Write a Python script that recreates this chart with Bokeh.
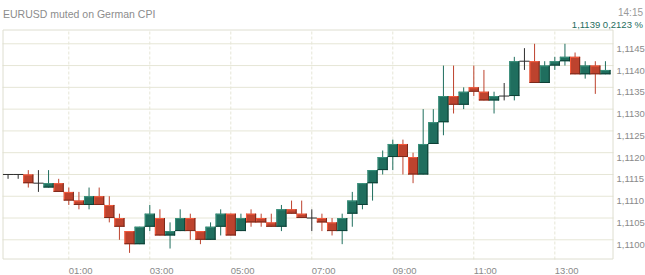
from bokeh.plotting import figure
from bokeh.models import Range1d, ColumnDataSource
from bokeh.core.properties import value
from bokeh.embed import file_html
from bokeh.resources import INLINE

# ---------------- data ----------------
times = ["23:30", "23:45", "00:00", "00:15", "00:30", "00:45", "01:00", "01:15", "01:30", "01:45",
         "02:00", "02:15", "02:30", "02:45", "03:00", "03:15", "03:30", "03:45", "04:00", "04:15",
         "04:30", "04:45", "05:00", "05:15", "05:30", "05:45", "06:00", "06:15", "06:30", "06:45",
         "07:00", "07:15", "07:30", "07:45", "08:00", "08:15", "08:30", "08:45", "09:00", "09:15",
         "09:30", "09:45", "10:00", "10:15", "10:30", "10:45", "11:00", "11:15", "11:30", "11:45",
         "12:00", "12:15", "12:30", "12:45", "13:00", "13:15", "13:30", "13:45", "14:00", "14:15"]

opens = [1.1115, 1.1115, 1.1115, 1.1113, 1.1112, 1.1113, 1.1111, 1.1109, 1.1108, 1.1110,
         1.1108, 1.1105, 1.1102, 1.1099, 1.1103, 1.1105, 1.1101, 1.1102, 1.1105, 1.1102,
         1.1100, 1.1103, 1.1106, 1.1102, 1.1106, 1.1105, 1.1104, 1.1103, 1.1107, 1.1106,
         1.1105, 1.1105, 1.1104, 1.1102, 1.1106, 1.1108, 1.1113, 1.1116, 1.1119, 1.1122,
         1.1119, 1.1115, 1.1122, 1.1127, 1.1133, 1.1131, 1.1135, 1.1134, 1.1132, 1.1133,
         1.1133, 1.1141, 1.1141, 1.1136, 1.1140, 1.1141, 1.1142, 1.1138, 1.1140, 1.1138]

closes = [1.1115, 1.1115, 1.1113, 1.1113, 1.1113, 1.1111, 1.1109, 1.1108, 1.1110, 1.1108,
          1.1105, 1.1103, 1.1099, 1.1103, 1.1106, 1.1101, 1.1102, 1.1105, 1.1102, 1.1100,
          1.1103, 1.1106, 1.1101, 1.1105, 1.1104, 1.1104, 1.1103, 1.1107, 1.1106, 1.1105,
          1.1105, 1.1104, 1.1102, 1.1105, 1.1109, 1.1113, 1.1116, 1.1119, 1.1122, 1.1119,
          1.1115, 1.1122, 1.1127, 1.1133, 1.1131, 1.1134, 1.1134, 1.1132, 1.1133, 1.1133,
          1.1141, 1.1141, 1.1136, 1.1140, 1.1141, 1.1142, 1.1138, 1.1140, 1.1138, 1.1139]

highs = [1.1115, 1.1115, 1.1116, 1.1116, 1.1116, 1.1114, 1.1112, 1.1111, 1.1112, 1.1112,
         1.1110, 1.1106, 1.1102, 1.1103, 1.1108, 1.1107, 1.1104, 1.1107, 1.1106, 1.1102,
         1.1104, 1.1107, 1.1106, 1.1106, 1.1107, 1.1106, 1.1106, 1.1108, 1.1109, 1.1109,
         1.1107, 1.1106, 1.1105, 1.1106, 1.1111, 1.1113, 1.1116, 1.11205, 1.1123, 1.1123,
         1.1120, 1.1130, 1.1130, 1.1140, 1.1140, 1.1135, 1.1140, 1.1139, 1.1134, 1.1136,
         1.1142, 1.1144, 1.1145, 1.1141, 1.1142, 1.1145, 1.1143, 1.1141, 1.1141, 1.1141]

lows = [1.1114, 1.1114, 1.1112, 1.1111, 1.1112, 1.1111, 1.1108, 1.1107, 1.1107, 1.1108,
        1.1104, 1.1100, 1.1097, 1.1099, 1.1102, 1.1101, 1.1098, 1.1102, 1.1100, 1.1099,
        1.1100, 1.1101, 1.1101, 1.1102, 1.1103, 1.1103, 1.1103, 1.1102, 1.1106, 1.1105,
        1.1102, 1.1102, 1.1101, 1.1099, 1.1103, 1.1107, 1.1109, 1.1115, 1.1116, 1.1115,
        1.1113, 1.1115, 1.1122, 1.1124, 1.1129, 1.1130, 1.1133, 1.1132, 1.1129, 1.1132,
        1.1132, 1.1139, 1.1136, 1.1136, 1.1139, 1.1140, 1.1138, 1.1137, 1.11335, 1.1138]

x_ticks = [1, 3, 5, 7, 9, 11, 13]
x_tick_labels = ["01:00", "03:00", "05:00", "07:00", "09:00", "11:00", "13:00"]
y_ticks = [1.1100, 1.1105, 1.1110, 1.1115, 1.1120, 1.1125, 1.1130, 1.1135, 1.1140, 1.1145]
y_tick_labels = ["1,1100", "1,1105", "1,1110", "1,1115", "1,1120", "1,1125", "1,1130",
                 "1,1135", "1,1140", "1,1145"]

title_text = "EURUSD muted on German CPI"
last_time = "14:15"
last_quote = "1,1139 0,2123 %"

# ---------------- geometry ----------------
W, H = 645, 275
F_LEFT, F_RIGHT, F_TOP, F_BOTTOM = 2, 613, 29, 259      # plot box in canvas pixels
X0, X1 = -0.637, 14.449                                  # visible time span (hours)
Y0, Y1 = 1.109548, 1.114828                              # visible price span
px_x = (X1 - X0) / (F_RIGHT - F_LEFT)
px_y = (Y1 - Y0) / (F_BOTTOM - F_TOP)
XL = X0 - F_LEFT * px_x
XR = X0 + (W - F_LEFT) * px_x
YT = Y1 + F_TOP * px_y
YB = Y1 - (H - F_TOP) * px_y


def cx(px):
    return XL + px * px_x


def cy(py):
    return YT - py * px_y


FONT = "Liberation Sans"
GRAY = "#8a8a8a"
GRID = "#e6e6d6"
FRAME = "#deded0"

GREEN_FILL, GREEN_LIGHT, GREEN_DARK = "#1f6e5e", "#3a917c", "#0e3f35"
RED_FILL, RED_LIGHT, RED_DARK = "#bd432e", "#f75a3c", "#7b2a1c"
DOJI = "#2e2e2e"


def to_hours(s):
    h, m = s.split(":")
    v = int(h) + int(m) / 60.0
    return v - 24 if v > 20 else v


t = [to_hours(s) for s in times]
half = 0.125


def kind(o, c):
    if c > o:
        return "up"
    if c < o:
        return "down"
    return "doji"


kinds = [kind(o, c) for o, c in zip(opens, closes)]
wick_col = [GREEN_FILL if k == "up" else RED_FILL if k == "down" else DOJI for k in kinds]
wicks = ColumnDataSource(dict(x=t, lo=lows, hi=highs, c=wick_col))

body_idx = [i for i, k in enumerate(kinds) if k != "doji"]
b_left = [t[i] - half for i in body_idx]
b_right = [t[i] + half for i in body_idx]
b_top = [max(opens[i], closes[i]) for i in body_idx]
b_bot = [min(opens[i], closes[i]) for i in body_idx]
b_fill = [GREEN_FILL if kinds[i] == "up" else RED_FILL for i in body_idx]
b_light = [GREEN_LIGHT if kinds[i] == "up" else RED_LIGHT for i in body_idx]
b_dark = [GREEN_DARK if kinds[i] == "up" else RED_DARK for i in body_idx]
doji_idx = [i for i, k in enumerate(kinds) if k == "doji"]

# ---------------- figure ----------------
p = figure(width=W, height=H, output_backend="svg", toolbar_location=None,
           x_range=Range1d(XL, XR), y_range=Range1d(YB, YT),
           x_axis_location=None, y_axis_location=None, min_border=0,
           background_fill_color="white", border_fill_color="white")
p.outline_line_color = None
p.xgrid.visible = False
p.ygrid.visible = False

# grid lines inside the plot box
p.segment(x0=[X0] * len(y_ticks), y0=y_ticks, x1=[X1] * len(y_ticks), y1=y_ticks,
          color=GRID, line_width=1)
p.segment(x0=x_ticks, y0=[Y0] * len(x_ticks), x1=x_ticks, y1=[Y1] * len(x_ticks),
          color=GRID, line_width=1, line_dash="3 2")

# plot box border
p.quad(left=[cx(F_LEFT + 0.5)], right=[cx(F_RIGHT - 0.5)],
       top=[cy(F_TOP + 0.5)], bottom=[cy(F_BOTTOM - 0.5)],
       fill_color=None, line_color=FRAME, line_width=1)

# wicks
p.segment(x0="x", y0="lo", x1="x", y1="hi", color="c", line_width=1, source=wicks)

# bodies with bevelled edges
p.quad(left=b_left, right=b_right, top=b_top, bottom=b_bot,
       fill_color=b_fill, line_color=None)
p.segment(x0=[l + px_x / 2 for l in b_left], y0=b_bot,
          x1=[l + px_x / 2 for l in b_left], y1=b_top, color=b_light, line_width=1)
p.segment(x0=b_left, y0=[tp - px_y / 2 for tp in b_top],
          x1=b_right, y1=[tp - px_y / 2 for tp in b_top], color=b_light, line_width=1)
p.segment(x0=[r - px_x / 2 for r in b_right], y0=b_bot,
          x1=[r - px_x / 2 for r in b_right], y1=b_top, color=b_dark, line_width=1)
p.segment(x0=b_left, y0=[b + px_y / 2 for b in b_bot],
          x1=b_right, y1=[b + px_y / 2 for b in b_bot], color=b_dark, line_width=1)

# doji bars
p.segment(x0=[t[i] - half for i in doji_idx], y0=[opens[i] for i in doji_idx],
          x1=[t[i] + half for i in doji_idx], y1=[closes[i] for i in doji_idx],
          color=DOJI, line_width=1)

# price labels (right side)
p.text(x=[cx(F_RIGHT + 3)] * len(y_ticks), y=[v - 5 * px_y for v in y_ticks],
       text=y_tick_labels, text_font=value(FONT), text_font_size="9.5px",
       text_color=GRAY, text_align="left", text_baseline="alphabetic")

# time labels (below), starting at their grid line
p.text(x=x_ticks, y=[cy(269.6)] * len(x_ticks), text=x_tick_labels,
       text_font=value(FONT), text_font_size="9.5px", text_color=GRAY,
       text_align="left", text_baseline="alphabetic")

# header
p.text(x=[cx(2.5)], y=[cy(13)], text=[title_text], text_font=value(FONT),
       text_font_size="10.5px", text_color="#8c8c8c",
       text_align="left", text_baseline="alphabetic")
p.text(x=[cx(642.5)], y=[cy(12)], text=[last_time], text_font=value(FONT),
       text_font_size="10px", text_color="#9a9a9a",
       text_align="right", text_baseline="alphabetic")
p.text(x=[cx(642.5)], y=[cy(24)], text=[last_quote], text_font=value(FONT),
       text_font_size="9.5px", text_color="#1f6e5e",
       text_align="right", text_baseline="alphabetic")

open("out.html", "w").write(file_html(p, INLINE))
